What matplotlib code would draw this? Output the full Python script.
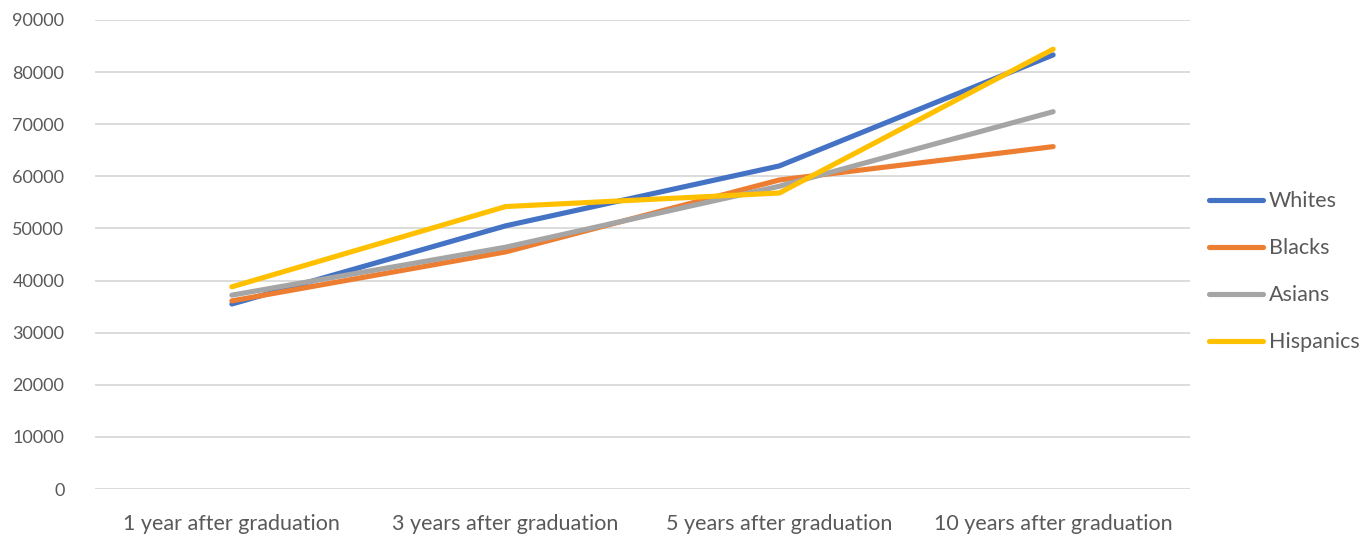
import matplotlib.pyplot as plt
import numpy as np

plt.rcParams['font.family'] = ['Lato', 'DejaVu Sans']

# data
categories = ["1 year after graduation", "3 years after graduation",
              "5 years after graduation", "10 years after graduation"]
whites = [35500, 50500, 62000, 83300]
blacks = [36100, 45500, 59300, 65700]
asians = [37200, 46400, 58100, 72400]
hispanics = [38800, 54200, 56800, 84400]

series = [("Whites", whites, "#4472C4"),
          ("Blacks", blacks, "#ED7D31"),
          ("Asians", asians, "#A5A5A5"),
          ("Hispanics", hispanics, "#FFC000")]

fig = plt.figure(figsize=(13.68, 5.36), dpi=100)
ax = fig.add_axes([95/1368, 1 - 489/536, (1190-95)/1368, (489-20)/536])

x = np.arange(len(categories))
for name, vals, col in series:
    ax.plot(x, vals, color=col, lw=3.7, solid_capstyle='round',
            solid_joinstyle='round', label=name)

ax.set_xlim(-0.5, len(categories) - 0.5)
ax.set_ylim(0, 90000)
ax.set_yticks(np.arange(0, 90001, 10000))
ax.set_xticks(x)
ax.set_xticklabels(categories)
ax.grid(axis='y', color='#d9d9d9', lw=1.3)
ax.set_axisbelow(True)
for s in ax.spines.values():
    s.set_visible(False)
ax.tick_params(length=0, colors='#595959')
ax.tick_params(axis='y', pad=22, labelsize=13)
ax.tick_params(axis='x', pad=18, labelsize=15.5)

leg = ax.legend(loc='center left', bbox_to_anchor=(1.0, 0.463), frameon=False,
                fontsize=15.5, labelcolor='#595959', handlelength=2.5,
                handletextpad=0.25, labelspacing=1.25)

fig.savefig("out.png", dpi=100)
